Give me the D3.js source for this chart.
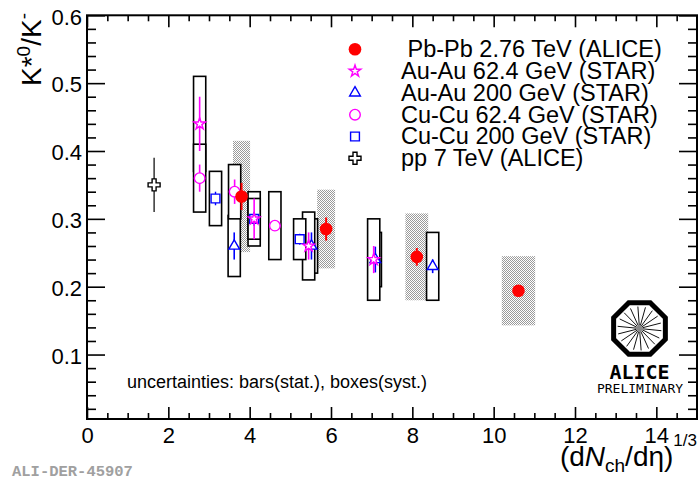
<!DOCTYPE html>
<html><head><meta charset="utf-8">
<script src="https://cdn.jsdelivr.net/npm/d3@7"></script>
<style>
body{margin:0;background:#fff}
text{font-family:"Liberation Sans",Arial,Helvetica,sans-serif}
</style>
</head><body>
<svg id="chart" width="698" height="481"></svg>
<script>
// Pb-Pb 2.76 TeV (ALICE): value, stat. error, syst. error, x half-width of syst. box
const pbX    = [3.80, 5.88, 8.11, 10.61];
const pbY    = [0.333, 0.285, 0.244, 0.194];
const pbStat = [0.020, 0.017, 0.013, 0.008];
const pbSyst = [0.082, 0.058, 0.064, 0.051];
const pbXw   = [0.21, 0.22, 0.28, 0.41];

// Au-Au 62.4 GeV (STAR)
const auLowX    = [2.77, 4.11, 5.45, 7.05];
const auLowY    = [0.44, 0.30, 0.26, 0.24];
const auLowStat = [0.040, 0.030, 0.020, 0.020];
const auLowSyst = [0.070, 0.040, 0.050, 0.060];

// Au-Au 200 GeV (STAR)
const auHighX    = [3.62, 5.52, 7.09, 8.50];
const auHighY    = [0.26, 0.26, 0.24, 0.23];
const auHighStat = [0.020, 0.020, 0.019, 0.010];
const auHighSyst = [0.045, 0.040, 0.040, 0.050];

// Cu-Cu 62.4 GeV (STAR)
const cuLowX    = [2.77, 3.63, 4.62];
const cuLowY    = [0.36, 0.34, 0.29];
const cuLowStat = [0.020, 0.018, 0.008];
const cuLowSyst = [0.050, 0.040, 0.050];

// Cu-Cu 200 GeV (STAR)
const cuHighX    = [3.16, 4.11, 5.23];
const cuHighY    = [0.33, 0.30, 0.27];
const cuHighStat = [0.010, 0.010, 0.008];
const cuHighSyst = [0.040, 0.030, 0.030];

// pp 7 TeV (ALICE)
const ppX    = [1.65];
const ppY    = [0.35];
const ppStat = [0.040];

const legendLabels = [
  " Pb-Pb 2.76 TeV (ALICE)",
  "Au-Au 62.4 GeV (STAR)",
  "Au-Au 200 GeV (STAR)",
  "Cu-Cu 62.4 GeV (STAR)",
  "Cu-Cu 200 GeV (STAR)",
  "pp 7 TeV (ALICE)"
];
const xTickValues = [0, 2, 4, 6, 8, 10, 12, 14];
const yTickValues = [0.1, 0.2, 0.3, 0.4, 0.5, 0.6];
const xTitle = {pre: "(d", italic: "N", sub: "ch", post: "/dη)", sup: "1/3"};
const yTitle = {a: "K*", supA: "0", b: "/K", supB: "-"};
const noteText = "uncertainties: bars(stat.), boxes(syst.)";
const stampText = "ALI-DER-45907";

const svg = d3.select("#chart");
const L = 87, R = 697, T = 15.3, B = 419;
const x = d3.scaleLinear().domain([0, 15]).range([L, R]);
const y = d3.scaleLinear().domain([0.005, 0.6]).range([B, T]);
const STARW = 0.15; // half-width of STAR syst. boxes in x units

// checkered fill for the Pb-Pb systematic boxes
const defs = svg.append("defs");
const pat = defs.append("pattern").attr("id", "chk").attr("width", 2).attr("height", 2)
  .attr("patternUnits", "userSpaceOnUse");
pat.append("rect").attr("width", 2).attr("height", 2).attr("fill", "#fff");
pat.append("rect").attr("width", 1).attr("height", 1).attr("fill", "#9a9a9a");
pat.append("rect").attr("x", 1).attr("y", 1).attr("width", 1).attr("height", 1).attr("fill", "#9a9a9a");

// ---- axes: ticks on all four sides, pointing inward ----
const yMinor = d3.range(0.02, 0.601, 0.02).filter(v => Math.abs(v * 10 - Math.round(v * 10)) > 1e-6);
const xMinor = d3.range(0.5, 15.01, 0.5).filter(v => v % 2 !== 0);

function tickStyle(g) {
  g.select(".domain").remove();
  g.selectAll(".tick line").attr("stroke", "#000").attr("stroke-width", 1.6);
}

svg.append("g").attr("transform", `translate(${L},0)`)
  .call(d3.axisLeft(y).tickValues(yTickValues).tickSize(-18).tickPadding(5).tickFormat(d3.format(".1f")))
  .call(tickStyle)
  .call(g => g.selectAll("text").attr("font-size", 22).attr("fill", "#000")
    .style("font-family", "Liberation Sans, Arial, sans-serif").attr("dy", "0.4em"));
svg.append("g").attr("transform", `translate(${L},0)`)
  .call(d3.axisLeft(y).tickValues(yMinor).tickSize(-9).tickFormat(""))
  .call(tickStyle);
svg.append("g").attr("transform", `translate(${R},0)`)
  .call(d3.axisRight(y).tickValues(yTickValues).tickSize(-18).tickFormat(""))
  .call(tickStyle);
svg.append("g").attr("transform", `translate(${R},0)`)
  .call(d3.axisRight(y).tickValues(yMinor).tickSize(-9).tickFormat(""))
  .call(tickStyle);

svg.append("g").attr("transform", `translate(0,${B})`)
  .call(d3.axisBottom(x).tickValues(xTickValues).tickSize(-12).tickPadding(8).tickFormat(d3.format("d")))
  .call(tickStyle)
  .call(g => g.selectAll("text").attr("font-size", 22).attr("fill", "#000")
    .style("font-family", "Liberation Sans, Arial, sans-serif"));
svg.append("g").attr("transform", `translate(0,${B})`)
  .call(d3.axisBottom(x).tickValues(xMinor).tickSize(-6).tickFormat(""))
  .call(tickStyle);
svg.append("g").attr("transform", `translate(0,${T})`)
  .call(d3.axisTop(x).tickValues(xTickValues).tickSize(-12).tickFormat(""))
  .call(tickStyle);
svg.append("g").attr("transform", `translate(0,${T})`)
  .call(d3.axisTop(x).tickValues(xMinor).tickSize(-6).tickFormat(""))
  .call(tickStyle);

// ---- systematic boxes ----
const zip = (xs, ys, st, sy, w) => xs.map((v, i) => ({x: v, y: ys[i], stat: st[i], syst: sy ? sy[i] : 0, w: w ? w[i] : STARW}));
const pb = zip(pbX, pbY, pbStat, pbSyst, pbXw);
const auLow = zip(auLowX, auLowY, auLowStat, auLowSyst);
const auHigh = zip(auHighX, auHighY, auHighStat, auHighSyst);
const cuLow = zip(cuLowX, cuLowY, cuLowStat, cuLowSyst);
const cuHigh = zip(cuHighX, cuHighY, cuHighStat, cuHighSyst);
const pp = zip(ppX, ppY, ppStat, null);

const boxes = svg.append("g");
boxes.selectAll(".pbbox").data(pb).join("rect")
  .attr("x", d => x(d.x - d.w)).attr("width", d => x(d.x + d.w) - x(d.x - d.w))
  .attr("y", d => y(d.y + d.syst)).attr("height", d => y(d.y - d.syst) - y(d.y + d.syst))
  .attr("fill", "url(#chk)");

function starBoxes(data) {
  boxes.append("g").selectAll("rect").data(data).join("rect")
    .attr("x", d => x(d.x - d.w)).attr("width", d => x(d.x + d.w) - x(d.x - d.w))
    .attr("y", d => y(d.y + d.syst)).attr("height", d => y(d.y - d.syst) - y(d.y + d.syst))
    .attr("fill", "#fff").attr("stroke", "#000").attr("stroke-width", 1.6);
}
starBoxes(auHigh);
starBoxes(auLow);
starBoxes(cuLow);
starBoxes(cuHigh);

// ---- statistical bars and markers ----
const sym = {
  star: d3.symbol().type(d3.symbolStar).size(42),
  tri: d3.symbol().type(d3.symbolTriangle).size(50),
  circ: d3.symbol().type(d3.symbolCircle).size(88),
  sq: d3.symbol().type(d3.symbolSquare).size(78),
  cross: d3.symbol().type(d3.symbolCross).size(80),
  dot: d3.symbol().type(d3.symbolCircle).size(125)
};

function series(data, color, shape, filled, lw) {
  const g = svg.append("g");
  g.selectAll("line").data(data).join("line")
    .attr("x1", d => x(d.x)).attr("x2", d => x(d.x))
    .attr("y1", d => y(d.y + d.stat)).attr("y2", d => y(d.y - d.stat))
    .attr("stroke", color).attr("stroke-width", lw);
  g.selectAll("path").data(data).join("path")
    .attr("transform", d => `translate(${x(d.x)},${y(d.y)})`)
    .attr("d", sym[shape]())
    .attr("fill", filled ? color : "#fff")
    .attr("stroke", color).attr("stroke-width", filled ? 0 : 1.4);
}
series(pp, "#000", "cross", false, 1.2);
series(cuHigh, "#0000ff", "sq", false, 1.4);
series(cuLow, "#ff00ff", "circ", false, 1.6);
series(auHigh, "#0000ff", "tri", false, 1.6);
series(auLow, "#ff00ff", "star", false, 1.6);
series(pb, "#ff0000", "dot", true, 2);

// ---- frame ----
svg.append("rect").attr("x", L).attr("y", T).attr("width", R - L).attr("height", B - T)
  .attr("fill", "none").attr("stroke", "#000").attr("stroke-width", 2);

// ---- legend ----
const legendStyle = [
  {color: "#ff0000", shape: "dot", filled: true},
  {color: "#ff00ff", shape: "star", filled: false},
  {color: "#0000ff", shape: "tri", filled: false},
  {color: "#ff00ff", shape: "circ", filled: false},
  {color: "#0000ff", shape: "sq", filled: false},
  {color: "#000", shape: "cross", filled: false}
];
const leg = svg.append("g");
legendLabels.forEach((lab, i) => {
  const ry = 49.3 + i * 21.8;
  const s = legendStyle[i];
  leg.append("path").attr("transform", `translate(355,${ry})`).attr("d", sym[s.shape]())
    .attr("fill", s.filled ? s.color : "#fff").attr("stroke", s.color)
    .attr("stroke-width", s.filled ? 0 : 1.4);
  leg.append("text").attr("x", 401).attr("y", ry + 7.8).attr("font-size", 23.5)
    .style("white-space", "pre").text(lab);
});

// ---- annotation ----
svg.append("text").attr("x", 127).attr("y", 388).attr("font-size", 18).text(noteText);

// ---- axis titles ----
const yt = svg.append("text").attr("transform", "translate(41,13) rotate(-90)")
  .attr("text-anchor", "end").attr("font-size", 28);
yt.append("tspan").text(yTitle.a);
yt.append("tspan").attr("dy", -11).attr("font-size", 19).text(yTitle.supA);
yt.append("tspan").attr("dy", 11).text(yTitle.b);
yt.append("tspan").attr("dy", -11).attr("font-size", 19).text(yTitle.supB);

const xt = svg.append("text").attr("x", 697).attr("y", 466).attr("text-anchor", "end").attr("font-size", 28);
xt.append("tspan").text(xTitle.pre);
xt.append("tspan").attr("font-style", "italic").text(xTitle.italic);
xt.append("tspan").attr("dy", 6).attr("font-size", 19).text(xTitle.sub);
xt.append("tspan").attr("dy", -6).text(xTitle.post);
xt.append("tspan").attr("dy", -20).attr("font-size", 17).text(xTitle.sup);

// ---- logo ----
const logo = svg.append("g").attr("transform", "translate(639.5,328.5)");
const oct = d3.range(8).map(k => {
  const a = Math.PI / 8 + k * Math.PI / 4;
  return [28 * Math.cos(a), 28 * Math.sin(a)];
});
logo.append("polygon").attr("points", oct.map(p => p.join(",")).join(" "))
  .attr("fill", "#fff").attr("stroke", "#000").attr("stroke-width", 5);
d3.range(18).forEach(k => {
  const a = k * Math.PI * 2 / 18 + 0.1;
  logo.append("line").attr("x1", 3 * Math.cos(a)).attr("y1", 3 * Math.sin(a))
    .attr("x2", 22 * Math.cos(a)).attr("y2", 22 * Math.sin(a))
    .attr("stroke", "#111").attr("stroke-width", 1);
});
logo.append("circle").attr("r", 3).attr("fill", "#888");
svg.append("text").attr("x", 639.5).attr("y", 378.5).attr("text-anchor", "middle")
  .style("font-family", "DejaVu Sans Mono, monospace").attr("font-weight", "bold")
  .attr("font-size", 20).text("ALICE");
svg.append("text").attr("x", 640).attr("y", 393.3).attr("text-anchor", "middle")
  .style("font-family", "DejaVu Sans Mono, monospace").attr("font-size", 13).text("PRELIMINARY");

// ---- figure id ----
svg.append("text").attr("x", 12).attr("y", 476).style("font-family", "Liberation Mono, Courier New, monospace")
  .attr("font-weight", "bold").attr("font-size", 15.5).attr("fill", "#a0a0a0").text(stampText);
</script>
</body></html>
